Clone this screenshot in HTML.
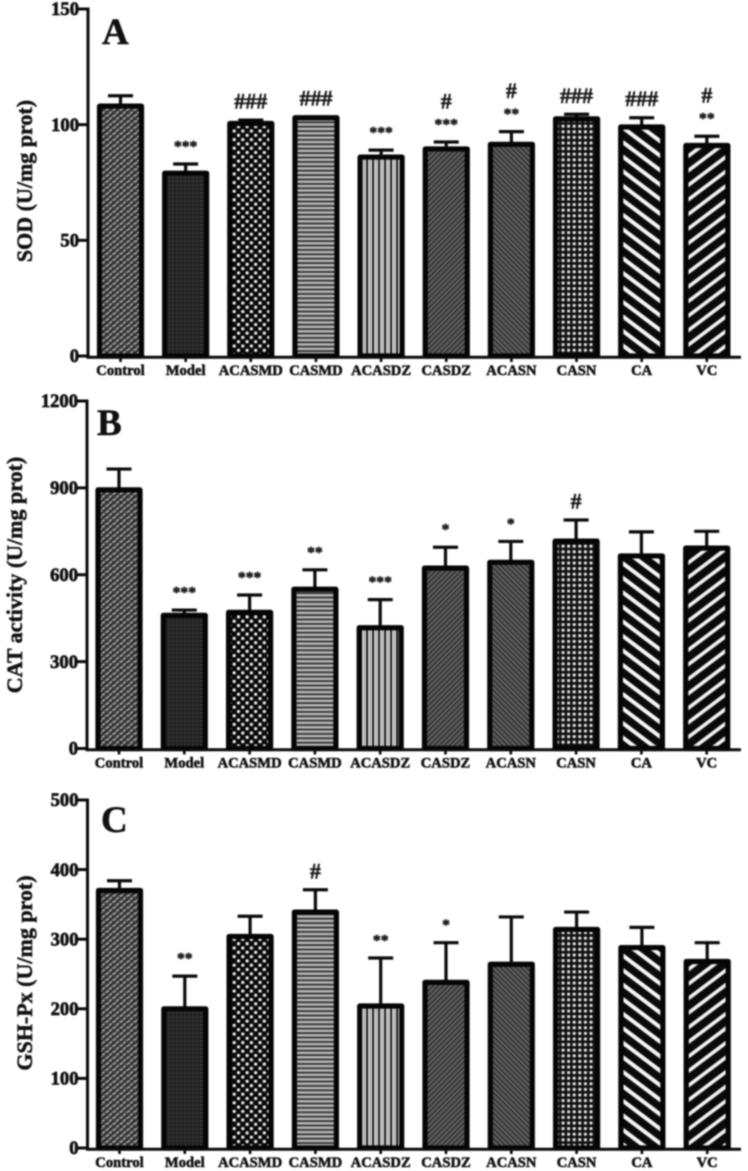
<!DOCTYPE html>
<html lang="en">
<head>
<meta charset="utf-8">
<title>SOD, CAT and GSH-Px activity bar charts</title>
<style>
html,body{margin:0;padding:0;background:#fff;width:748px;height:1171px;overflow:hidden}
svg{display:block;filter:blur(0.7px)}
text{font-family:"Liberation Serif",serif;font-weight:bold;fill:#111}
</style>
</head>
<body>
<svg id="figure" xmlns="http://www.w3.org/2000/svg" width="748" height="1171" viewBox="0 0 748 1171">
<defs>
<pattern id="fill0" patternUnits="userSpaceOnUse" width="7" height="6"><rect width="7" height="6" fill="#333"/><path d="M0.5 2.5L4 0.5M4 5.5L7 3.5" stroke="#a8a8a8" stroke-width="1.7"/></pattern>
<pattern id="fill1" patternUnits="userSpaceOnUse" width="4" height="4"><rect width="4" height="4" fill="#222"/><rect x="0" y="0" width="2" height="2" fill="#3a3a3a"/></pattern>
<pattern id="fill2" patternUnits="userSpaceOnUse" width="8.6" height="8.6"><rect width="8.6" height="8.6" fill="#0a0a0a"/><circle cx="2" cy="2" r="1.6" fill="#f4f4f4"/><circle cx="6.3" cy="6.3" r="1.6" fill="#f4f4f4"/></pattern>
<pattern id="fill3" patternUnits="userSpaceOnUse" width="5" height="4.4"><rect width="5" height="4.4" fill="#2c2c2c"/><rect y="0" width="5" height="2.6" fill="#b8b8b8"/></pattern>
<pattern id="fill4" patternUnits="userSpaceOnUse" width="6" height="6"><rect width="6" height="6" fill="#f4f4f4"/><rect x="0" width="2.2" height="6" fill="#1a1a1a"/><rect x="3.6" width="1.2" height="6" fill="#888"/></pattern>
<pattern id="fill5" patternUnits="userSpaceOnUse" width="3.6" height="3.6" patternTransform="rotate(-45)"><rect width="3.6" height="3.6" fill="#363636"/><rect width="3.6" height="1.5" fill="#686868"/></pattern>
<pattern id="fill6" patternUnits="userSpaceOnUse" width="3.6" height="3.6" patternTransform="rotate(45)"><rect width="3.6" height="3.6" fill="#363636"/><rect width="3.6" height="1.5" fill="#686868"/></pattern>
<pattern id="fill7" patternUnits="userSpaceOnUse" width="5.6" height="5.6"><rect width="5.6" height="5.6" fill="#111"/><rect x="1.6" y="1.6" width="2.8" height="2.8" fill="#f4f4f4"/></pattern>
<pattern id="fill8" patternUnits="userSpaceOnUse" width="11.6" height="11.6" patternTransform="rotate(37)"><rect width="11.6" height="11.6" fill="#0a0a0a"/><rect y="3.5" width="11.6" height="4" fill="#f8f8f8"/></pattern>
<pattern id="fill9" patternUnits="userSpaceOnUse" width="11.6" height="11.6" patternTransform="rotate(-37)"><rect width="11.6" height="11.6" fill="#0a0a0a"/><rect y="3.5" width="11.6" height="3.6" fill="#f4f4f4"/></pattern>
</defs>
</svg>
<script>
const categories = ['Control','Model','ACASMD','CASMD','ACASDZ','CASDZ','ACASN','CASN','CA','VC'];

const sodValues = [108, 79, 100.5, 103, 86, 89.5, 91.5, 102.5, 99, 91];
const sodErrors = [4.5, 4, 1.5, 0.3, 3, 3, 5.5, 2, 4, 4];
const sodTicks = [0, 50, 100, 150];
const sodMarks = ['', '***', '###', '###', '***', '***|#', '**|#', '###', '###', '**|#'];

const catValues = [893, 460, 470, 550, 417, 623, 643, 716, 665, 692];
const catErrors = [72, 18, 60, 67, 97, 72, 72, 73, 83, 58];
const catTicks = [0, 300, 600, 900, 1200];
const catMarks = ['', '***', '***', '**', '***', '*', '*', '#', '', ''];

const gshValues = [370, 200, 304, 339, 204, 238, 264, 314, 288, 268];
const gshErrors = [14, 47, 29, 32, 69, 57, 68, 25, 29, 27];
const gshTicks = [0, 100, 200, 300, 400, 500];
const gshMarks = ['', '**', '', '#', '**', '*', '', '', '', ''];

const svg = document.getElementById('figure');
const NS = 'http://www.w3.org/2000/svg';

function mk(tag, attrs, parent) {
  const el = document.createElementNS(NS, tag);
  for (const k in attrs) el.setAttribute(k, attrs[k]);
  parent.appendChild(el);
  return el;
}

function drawPanel(key, letter, title, values, errors, ticks, marks, o) {
  const g = mk('g', {}, svg);
  
  
  const maxV = ticks[ticks.length - 1];
  const yScale = v => o.y0 - (v / maxV) * (o.y0 - o.yTop);
  const xScale = i => o.c0 + i * o.step;

  categories.forEach((cat, i) => {
    const top = yScale(values[i]);
    const capY = yScale(values[i] + errors[i]);
    const cx = xScale(i);
    const err = mk('path', {d: 'M' + (cx - 12.5) + ' ' + capY + 'H' + (cx + 12.5) + 'M' + cx + ' ' + capY + 'V' + top, fill: 'none', stroke: '#0a0a0a', 'stroke-width': 3.2}, g);
    
    
    const bar = mk('rect', {x: cx - 21, y: top, width: 42, height: o.y0 - top, fill: 'url(#fill' + i + ')', stroke: '#050505', 'stroke-width': 5.2, 'stroke-linejoin': 'round'}, g);
    
    

    const tick = mk('line', {x1: cx, x2: cx, y1: o.y0, y2: o.y0 + 6, stroke: '#0a0a0a', 'stroke-width': 2.6}, g);
    
    
    const lab = mk('text', {x: cx, y: o.y0 + 19, 'text-anchor': 'middle', 'font-size': 14.6, stroke: '#111', 'stroke-width': 0.55}, g);
    lab.textContent = cat;
    
    

    if (marks[i]) {
      marks[i].split('|').forEach((m, n) => {
        const isHash = m[0] === '#';
        const gap = n === 0 ? (isHash ? 19 : 20) : 41;
        const mark = mk('text', {x: cx, y: capY - gap + 7.5, 'text-anchor': 'middle', 'font-size': isHash ? 22 : 15.6, fill: '#222', stroke: '#222', 'stroke-width': 0.5}, g);
        mark.textContent = m;
        
        
      });
    }
  });

  const axes = mk('path', {d: 'M' + o.ax + ' ' + (o.yTop - 1.5) + 'V' + (o.y0 + 1.2) + 'H741', fill: 'none', stroke: '#0a0a0a', 'stroke-width': 3}, g);
  
  

  ticks.forEach(t => {
    const y = yScale(t);
    const tk = mk('line', {x1: o.ax - 10, x2: o.ax, y1: y, y2: y, stroke: '#0a0a0a', 'stroke-width': 3}, g);
    
    
    const tl = mk('text', {x: o.ax - 9, y: y + 6.2, 'text-anchor': 'end', 'font-size': 18.6, stroke: '#111', 'stroke-width': 0.7}, g);
    tl.textContent = t;
    
    
  });

  const yTitle = mk('text', {transform: 'translate(' + o.tx + ' ' + o.ty + ') rotate(-90)', 'text-anchor': 'middle', 'font-size': 22, stroke: '#111', 'stroke-width': 0.5}, g);
  yTitle.textContent = title;
  
  

  const pl = mk('text', {x: o.lx, y: o.ly, 'font-size': 37, fill: '#0a0a0a', stroke: '#0a0a0a', 'stroke-width': 0.5}, g);
  pl.textContent = letter;
  
  
}

drawPanel('a', 'A', 'SOD (U/mg prot)', sodValues, sodErrors, sodTicks, sodMarks,
  {y0: 356, yTop: 9, ax: 88, c0: 120.5, step: 65.15, tx: 32, ty: 181, lx: 102, ly: 44});
drawPanel('b', 'B', 'CAT activity (U/mg prot)', catValues, catErrors, catTicks, catMarks,
  {y0: 748.5, yTop: 401, ax: 87, c0: 119, step: 65.3, tx: 22, ty: 575, lx: 97, ly: 435});
drawPanel('c', 'C', 'GSH-Px (U/mg prot)', gshValues, gshErrors, gshTicks, gshMarks,
  {y0: 1148, yTop: 800, ax: 87.5, c0: 119.5, step: 65.3, tx: 32, ty: 973, lx: 101, ly: 832});
</script>
</body>
</html>
